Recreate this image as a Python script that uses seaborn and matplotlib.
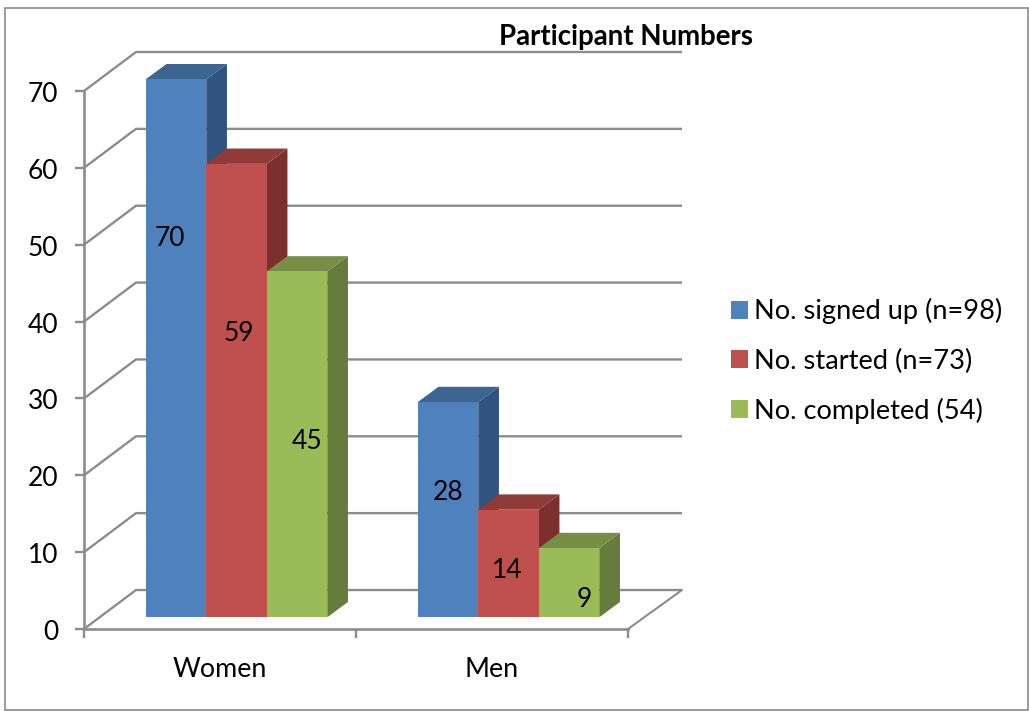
import matplotlib
matplotlib.use("Agg")
import matplotlib.pyplot as plt
from matplotlib.patches import Polygon, Rectangle
from matplotlib.transforms import Affine2D
import pandas as pd
import seaborn as sns

# Chart values
groups = ["Women", "Men"]
series_names = ["No. signed up (n=98)", "No. started (n=73)", "No. completed (54)"]
signed_up = [70, 28]
started = [59, 14]
completed = [45, 9]
y_ticks = [0, 10, 20, 30, 40, 50, 60, 70]
chart_title = "Participant Numbers"

# Face colours for each series: front, top, side
front_colors = ["#4F81BD", "#C0504D", "#9BBB59"]
top_colors = ["#3D6592", "#8E3B39", "#768E45"]
side_colors = ["#31547E", "#7C302E", "#667C3A"]
line_color = "#8C8C8C"

W, H = 1029, 711
PX_X = 272.0            # pixels per category
PX_Y = 538.0 / 70.0     # pixels per unit of value

sns.set_theme(style="white")
plt.rcParams["font.family"] = ["Lato", "DejaVu Sans"]

fig = plt.figure(figsize=(W / 100, H / 100), dpi=100, facecolor="white")
ax = fig.add_axes([84 / W, (H - 629) / H, 544 / W, 538 / H])

rows = []
for name, vals in zip(series_names, [signed_up, started, completed]):
    for g, v in zip(groups, vals):
        rows.append({"group": g, "series": name, "count": v})
df = pd.DataFrame(rows)

sns.barplot(data=df, x="group", y="count", hue="series", hue_order=series_names,
            order=groups, palette=front_colors, width=181.5 / PX_X, gap=0,
            saturation=1, errorbar=None, ax=ax, linewidth=0, zorder=3)
ax.set_xlim(-0.5, 1.5)
ax.set_ylim(0, 70)
ax.set_xlabel("")
ax.set_ylabel("")

# Depth of the back wall and of the bars, in data units
wall_dx, wall_dy = 52 / PX_X, 39 / PX_Y
wall_end = 1.5 + 54 / PX_X
bar_dx, bar_dy = 20.7 / PX_X, 15.3 / PX_Y
shift_x, shift_y = 16.5 / PX_X, 11.7 / PX_Y

# Gridlines run along the side wall and then across the back wall
for t in y_ticks:
    ax.plot([-0.5, -0.5 + wall_dx, wall_end], [t, t + wall_dy, t + wall_dy],
            color=line_color, lw=1.7, clip_on=False, zorder=1,
            solid_joinstyle="miter", solid_capstyle="butt")
ax.plot([1.5, wall_end], [0, wall_dy], color=line_color, lw=1.5,
        clip_on=False, zorder=1)

# Move the fronts forward and add the top and side faces of each bar
front_tf = Affine2D().translate(shift_x, shift_y) + ax.transData
for i, container in enumerate(ax.containers):
    for patch in container:
        x0, w, h = patch.get_x(), patch.get_width(), patch.get_height()
        patch.set_transform(front_tf)
        patch.set_clip_on(False)
        patch.set_zorder(3 + i * 2 + 0.5)
        x1 = x0 + w
        side = Polygon([(x1, 0), (x1 + bar_dx, bar_dy), (x1 + bar_dx, h + bar_dy), (x1, h)],
                       closed=True, fc=side_colors[i], ec="none", transform=front_tf,
                       clip_on=False, zorder=3 + i * 2)
        top = Polygon([(x0, h), (x0 + bar_dx, h + bar_dy), (x1 + bar_dx, h + bar_dy), (x1, h)],
                      closed=True, fc=top_colors[i], ec="none", transform=front_tf,
                      clip_on=False, zorder=3 + i * 2)
        ax.add_patch(side)
        ax.add_patch(top)

# Value labels, placed by hand inside the bars (pixel offset from bar centre, from bar top)
label_offsets = [[(-6.5, -159.5), (0.5, -90.5)],
                 [(2, -169.5), (-1, -60.5)],
                 [(10, -170.5), (15, -51.5)]]
for i, container in enumerate(ax.containers):
    for patch, (ox, oy) in zip(container, label_offsets[i]):
        h = patch.get_height()
        cx = patch.get_x() + patch.get_width() / 2 + shift_x + ox / PX_X
        cy = h + shift_y + oy / PX_Y
        ax.text(cx, cy, f"{h:.0f}", ha="center", va="center", fontsize=19,
                color="black", zorder=20)

# Axes
sns.despine(ax=ax, top=True, right=True)
for s in ("left", "bottom"):
    ax.spines[s].set_color(line_color)
    ax.spines[s].set_linewidth(1.9)
    ax.spines[s].set_zorder(2)
ax.set_yticks(y_ticks)
ax.set_yticklabels([str(t) for t in y_ticks])
ax.set_xticks([0, 1])
ax.set_xticklabels(groups)
ax.set_xticks([-0.5, 0.5, 1.5], minor=True)
ax.tick_params(axis="y", left=True, length=6.5, width=1.7, color=line_color,
               labelsize=19, labelcolor="black", pad=12)
ax.tick_params(axis="x", which="major", bottom=False, labelsize=19.4,
               labelcolor="black", pad=14.5)
ax.tick_params(axis="x", which="minor", bottom=True, length=6.5, width=1.7,
               color=line_color)
for lab in ax.get_yticklabels():
    lab.set_transform(lab.get_transform() + Affine2D().translate(0, -1))

# Title
fig.text(626 / W, 1 - 37.5 / H, chart_title, ha="center", va="center",
         fontsize=19.9, fontweight="bold", color="black")

# Legend
h, l = ax.get_legend_handles_labels()
leg = ax.legend(h, l, loc="center left", bbox_to_anchor=(731 / W, 1 - 361 / H),
                bbox_transform=fig.transFigure, frameon=False, fontsize=19.6,
                handlelength=0.63, handleheight=0.63, handletextpad=0.22,
                labelspacing=0.88, borderpad=0, borderaxespad=0)
for t in leg.get_texts():
    t.set_color("black")

# Outer chart frame
fig.add_artist(Rectangle((5 / W, 1 / H), 1023 / W, (H - 9) / H, transform=fig.transFigure,
                         fill=False, ec="#8A8A8A", lw=1.2))

fig.savefig("out.png", dpi=100, facecolor="white")
